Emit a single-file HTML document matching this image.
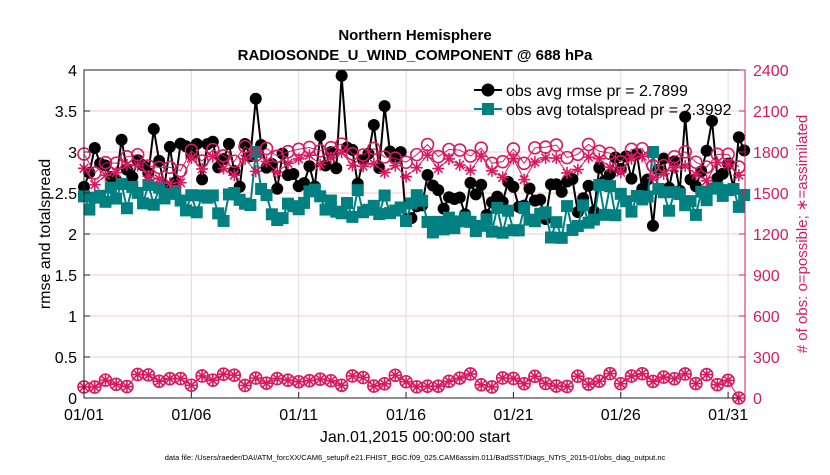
<!DOCTYPE html>
<html><head><meta charset="utf-8"><style>
body{margin:0;background:#fff;width:830px;height:470px;overflow:hidden}
text{font-family:"Liberation Sans",sans-serif}
</style></head><body>
<svg id="s" width="830" height="470" xmlns="http://www.w3.org/2000/svg"></svg>
<script>
const L=84,R=745,T=70,B=398,day=21.47;
const yl=v=>B-v*(B-T)/4, yr=v=>B-v*(B-T)/2400, xd=d=>L+d*day;
let s='';
for(let i=0.5;i<4;i+=0.5) s+=`<line x1="${L}" x2="${R}" y1="${yl(i)}" y2="${yl(i)}" stroke="#f3c8d8" stroke-width="1"/>`;
for(let d=5;d<31;d+=5) s+=`<line x1="${xd(d)}" x2="${xd(d)}" y1="${T}" y2="${B}" stroke="#ddd"/>`;
let seed=11;const rnd=()=>{seed=(seed*16807)%2147483647;return seed/2147483647};
// rmse/spread 4/day
const N=124;const X=[],rm=[],sp=[];
for(let i=0;i<N;i++){const d=i*0.25;X.push(xd(d));
 let base=d<9?2.85:(d<15?2.8:(d<24?2.45:2.75));
 rm.push(base+(rnd()-0.5)*0.55);
 let sb=d<5?2.48:(d<16?2.35:(d<24?2.15:2.4));
 sp.push(sb+(rnd()-0.5)*0.4);}
const setd=(a,d,v)=>{a[Math.round(d*4)]=v};
setd(rm,8.1,3.65);setd(rm,12.1,3.93);setd(rm,14.1,3.56);setd(rm,11.0,3.2);setd(rm,3.2,3.28);setd(rm,1.7,3.15);setd(rm,13.6,3.33);
setd(rm,28.1,3.43);setd(rm,29.2,3.38);setd(rm,26.6,2.1);setd(rm,30.4,3.18);
setd(sp,8.1,3.0);setd(sp,26.5,3.0);
// counts 2/day
const M=62,Xc=[],po=[],as=[],lo=[];
for(let i=0;i<M;i++){const d=i*0.5;Xc.push(xd(d));
 let pb=d<5?1720:(d<24?1790:1760);
 let p=pb+(rnd()-0.5)*150;po.push(p);as.push(p-50-rnd()*70);
 lo.push(120+(rnd()-0.4)*100);}
lo[61]=0;po[61]=1690;as[61]=1630;
const path=(xs,ys,f,c,w)=>`<polyline fill="none" stroke="${c}" stroke-width="${w}" points="${ys.map((v,i)=>xs[i].toFixed(1)+','+f(v).toFixed(1)).join(' ')}"/>`;
s+=path(X,rm,yl,'#000',2);
rm.forEach((v,i)=>s+=`<circle cx="${X[i]}" cy="${yl(v)}" r="6" fill="#000"/>`);
s+=path(X,sp,yl,'#008080',2);
sp.forEach((v,i)=>s+=`<rect x="${X[i]-6}" y="${yl(v)-6}" width="12" height="12" fill="#008080"/>`);
const star=(x,y)=>{let r=6,o='';for(let k=0;k<4;k++){const a=k*Math.PI/4;o+=`M${x-r*Math.cos(a)},${y-r*Math.sin(a)}L${x+r*Math.cos(a)},${y+r*Math.sin(a)}`;}return `<path d="${o}" stroke="#d81b60" stroke-width="1.6"/>`};
s+=path(Xc,po,yr,'#d81b60',1);s+=path(Xc,as,yr,'#d81b60',1);s+=path(Xc,lo,yr,'#d81b60',1);
po.forEach((v,i)=>s+=`<circle cx="${Xc[i]}" cy="${yr(v)}" r="6" fill="none" stroke="#d81b60" stroke-width="1.6"/>`);
as.forEach((v,i)=>s+=star(Xc[i],yr(v)));
lo.forEach((v,i)=>{s+=`<circle cx="${Xc[i]}" cy="${yr(v)}" r="6" fill="none" stroke="#d81b60" stroke-width="1.6"/>`+star(Xc[i],yr(v));});
s+=`<rect x="${L}" y="${T}" width="${R-L}" height="${B-T}" fill="none" stroke="#222"/>`;
s+=`<line x1="${R}" x2="${R}" y1="${T}" y2="${B}" stroke="#d81b60"/>`;
for(let i=0;i<=8;i++){const v=i*0.5,y=yl(v);s+=`<line x1="${L}" x2="${L+6}" y1="${y}" y2="${y}" stroke="#222"/><text x="${L-7}" y="${y+6}" font-size="16" text-anchor="end">${v}</text>`;}
for(let i=0;i<=8;i++){const v=i*300,y=yr(v);s+=`<line x1="${R-6}" x2="${R}" y1="${y}" y2="${y}" stroke="#d81b60"/><text x="${R+8}" y="${y+6}" font-size="16" fill="#d81b60">${v}</text>`;}
const lab=['01/01','01/06','01/11','01/16','01/21','01/26','01/31'];
lab.forEach((t,k)=>{const x=xd(k*5);s+=`<line x1="${x}" x2="${x}" y1="${B}" y2="${B-6}" stroke="#222"/><text x="${x}" y="${B+22}" font-size="16" text-anchor="middle">${t}</text>`;});
s+=`<text x="415" y="40" font-size="15" font-weight="bold" text-anchor="middle">Northern Hemisphere</text>`;
s+=`<text x="415" y="60" font-size="15" font-weight="bold" text-anchor="middle">RADIOSONDE_U_WIND_COMPONENT @ 688 hPa</text>`;
s+=`<text x="415" y="442" font-size="16" text-anchor="middle">Jan.01,2015 00:00:00 start</text>`;
s+=`<text x="415" y="460" font-size="7.5" text-anchor="middle">data file: /Users/raeder/DAI/ATM_forcXX/CAM6_setup/f.e21.FHIST_BGC.f09_025.CAM6assim.011/BadSST/Diags_NTrS_2015-01/obs_diag_output.nc</text>`;
s+=`<text transform="translate(50,234) rotate(-90)" font-size="16" text-anchor="middle">rmse and totalspread</text>`;
s+=`<text transform="translate(807,234) rotate(-90)" font-size="15" text-anchor="middle" fill="#d81b60"># of obs: o=possible; &#8727;=assimilated</text>`;
s+=`<line x1="474" x2="502" y1="90" y2="90" stroke="#000" stroke-width="2"/><circle cx="488" cy="90" r="6.5"/>`;
s+=`<text x="506" y="96" font-size="16">obs avg rmse pr = 2.7899</text>`;
s+=`<line x1="474" x2="502" y1="109" y2="109" stroke="#008080" stroke-width="2"/><rect x="482" y="103" width="12" height="12" fill="#008080"/>`;
s+=`<text x="506" y="115" font-size="16">obs avg totalspread pr = 2.3992</text>`;
document.getElementById('s').innerHTML=s;
</script>
</body></html>
